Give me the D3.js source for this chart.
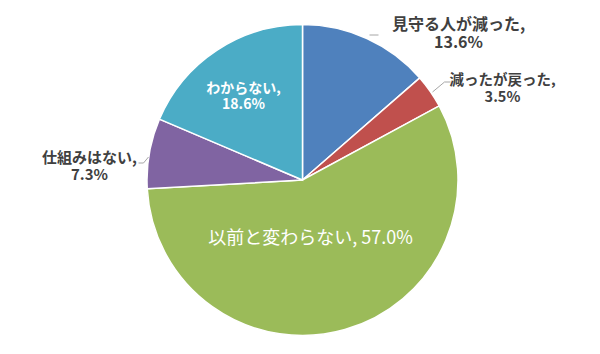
<!DOCTYPE html>
<html>
<head>
<meta charset="utf-8">
<script src="https://cdn.jsdelivr.net/npm/d3@7"></script>
<style>
  body { margin: 0; background: #fff; }
  text { font-family: "Noto Sans CJK JP", "Noto Sans", sans-serif; }
</style>
</head>
<body>
<div id="chart"></div>
<script>
const categories = ['見守る人が減った', '減ったが戻った', '以前と変わらない', '仕組みはない', 'わからない']
const values = [13.6, 3.5, 57.0, 7.3, 18.6]
const colors = ['#4F81BD', '#C0504D', '#9BBB59', '#8064A2', '#4BACC6']

const width = 600
const height = 354
const cx = 302.5
const cy = 180
const radius = 155.5

const svg = d3.select('#chart').append('svg')
  .attr('width', width)
  .attr('height', height)

const pie = d3.pie().sort(null).value(d => d)
const arcs = pie(values)
const arc = d3.arc().innerRadius(0).outerRadius(radius)

const g = svg.append('g').attr('transform', `translate(${cx},${cy})`)

g.selectAll('path')
  .data(arcs).enter()
  .append('path')
  .attr('d', arc)
  .attr('fill', (d, i) => colors[i])
  .attr('stroke', '#fff')
  .attr('stroke-width', 1.5)

// label placement (offsets from the centre), outside labels get leader lines
const labelPos = [
  { x: 156, y: -150, size: 16, gap: 18, line: [[67, -145], [76, -145]] },
  { x: 200, y: -95, size: 14.5, gap: 17, line: [[130, -88], [142, -98], [148, -98]] },
  { x: 8, y: 64, size: 18, inside: true, single: true },
  { x: -213, y: -17, size: 15, gap: 17, line: [[-164, -17], [-159, -17], [-154, -23]] },
  { x: -59, y: -87, size: 14, gap: 16, inside: true }
]

const fmt = v => v.toFixed(1) + '%'

arcs.forEach((a, i) => {
  const p = labelPos[i]
  if (p.line) {
    g.append('polyline')
      .attr('points', p.line.map(q => q.join(',')).join(' '))
      .attr('fill', 'none')
      .attr('stroke', '#a6a6a6')
      .attr('stroke-width', 1)
  }
  const t = g.append('text')
    .attr('text-anchor', 'middle')
    .attr('fill', p.inside ? '#fff' : '#404040')
    .attr('font-size', p.size)
  if (p.single) {
    t.attr('x', p.x).attr('y', p.y)
      .text(categories[i] + ', ' + fmt(values[i]))
  } else {
    t.attr('font-weight', 'bold')
    t.append('tspan').attr('x', p.x).attr('y', p.y).text(categories[i] + ',')
    t.append('tspan').attr('x', p.x).attr('y', p.y + p.gap).text(fmt(values[i]))
  }
})
</script>
</body>
</html>
